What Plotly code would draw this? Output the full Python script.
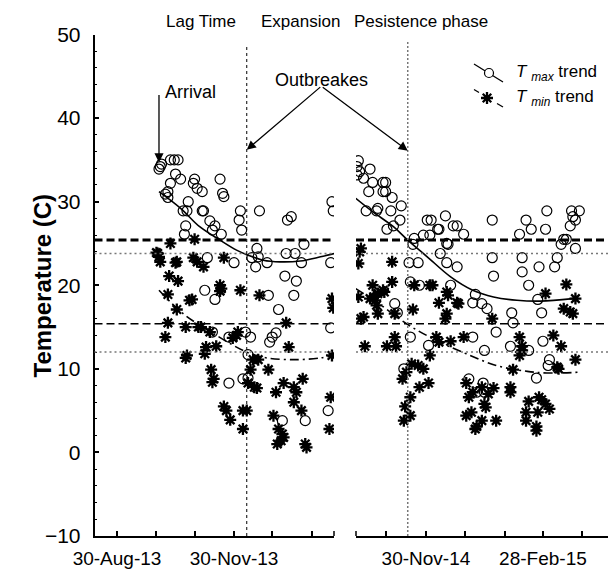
import pandas as pd
import plotly.graph_objects as go

# reference canvas is 616x570; the page body has an 8px margin, so the figure is 8px smaller
REF_W, REF_H = 616, 570
OFF = 8
W, H = REF_W - OFF, REF_H - OFF

# ---------------- data ----------------
# Season 1 (days counted from 30-Aug-2013)
base_2013 = "2013-08-30"
tmax_13_day = [33, 34, 35, 42, 45, 48, 46, 50, 61, 60, 63, 67, 81, 83, 84, 40, 38, 40, 42, 56,
               52, 55, 67, 68, 97, 96, 98, 112, 54, 53, 73, 77, 75, 82, 71, 92, 106, 110, 109, 111,
               118, 134, 137, 133, 140, 147, 145, 169, 170, 168, 132, 141, 139, 127, 69, 77, 119, 168, 75, 88,
               101, 105, 120, 122, 125, 103, 88, 99, 103, 130, 148, 166]
tmax_13_val = [33.9, 34.2, 34.5, 35.0, 35.0, 35.0, 33.3, 32.7, 32.7, 32.2, 31.6, 31.2, 32.7, 31.0, 30.6, 31.2, 30.9, 30.5, 32.2, 30.0,
               28.9, 28.9, 28.9, 28.9, 28.9, 27.8, 26.6, 28.9, 27.1, 26.1, 27.7, 27.1, 26.6, 26.1, 23.3, 22.7, 23.3, 24.4, 22.2, 23.4,
               22.7, 27.8, 28.2, 23.8, 23.8, 24.9, 22.7, 30.0, 28.9, 22.7, 21.1, 20.5, 18.8, 17.1, 19.4, 18.3, 18.8, 14.9, 14.4, 13.8,
               14.4, 13.8, 13.2, 13.8, 14.3, 11.7, 8.3, 8.8, 8.9, 3.8, 3.8, 5.0]
tmin_13_day = [42, 61, 32, 33, 34, 31, 46, 47, 60, 63, 68, 84, 41, 48, 40, 47, 57, 59, 81, 82,
               81, 97, 112, 169, 170, 40, 38, 54, 64, 66, 73, 70, 78, 69, 54, 55, 94, 95, 91, 107,
               111, 105, 119, 133, 135, 169, 74, 76, 75, 103, 108, 110, 125, 131, 139, 141, 146, 139, 145, 84,
               86, 89, 99, 102, 99, 123, 127, 130, 131, 126, 129, 148, 149, 168, 167]
tmin_13_val = [25.0, 25.5, 23.8, 23.4, 22.8, 23.9, 22.7, 22.8, 23.3, 22.8, 22.2, 23.3, 21.1, 20.5, 18.9, 17.1, 18.2, 18.3, 20.0, 19.6,
               19.3, 19.4, 18.8, 18.4, 17.3, 15.5, 13.8, 15.0, 15.0, 15.0, 14.4, 12.6, 12.7, 11.8, 11.3, 11.6, 14.0, 14.4, 13.7, 11.1,
               11.1, 9.9, 9.9, 15.5, 12.6, 11.6, 9.9, 8.8, 8.4, 8.3, 7.8, 7.7, 7.2, 8.3, 7.8, 7.2, 8.8, 6.0, 5.0, 5.5,
               5.0, 3.9, 5.0, 5.0, 2.8, 4.4, 2.8, 2.2, 1.8, 1.0, 1.4, 1.0, 0.6, 6.6, 2.8]
trend_max_13_day = [33, 50, 65, 81, 94, 103, 115, 128, 144, 160, 171]
trend_max_13_val = [31.2, 29.2, 27.0, 25.4, 24.2, 23.6, 23.0, 22.8, 22.9, 23.4, 23.8]
trend_min_13_day = [33, 52, 76, 102, 118, 141, 160, 170]
trend_min_13_val = [19.4, 16.6, 14.2, 12.0, 11.3, 11.1, 11.3, 11.6]

# Season 2 (days counted from 30-Nov-2014)
base_2014 = "2014-11-30"
tmax_14_day = [-52, -53, -51, -43, -53, -48, -41, -33, -31, -44, -33, -31, -26, -19, -46, -38, -27, -20, -37, -30,
               -25, -9, -10, 1, 4, 15, 21, 24, 29, -2, 3, 9, 10, 16, 17, 11, 16, 24, -13, -6,
               51, 51, 52, 77, 81, 93, 92, 72, 74, 74, 79, 87, 99, 101, 104, 106, 108, 111, 113, 115,
               112, 118, 115, 86, 89, 66, -12, -5, 19, -24, -22, 38, 36, 43, 47, 67, -12, 2, 36, 45,
               54, 65, 79, 90, 95, 94, 85, -17, 33, 44, 45, 39]
tmax_14_val = [34.9, 34.2, 33.6, 33.9, 33.2, 32.8, 32.3, 32.3, 32.3, 31.2, 31.2, 31.2, 30.5, 29.5, 28.9, 28.9, 28.9, 27.8, 29.2, 26.7,
               27.1, 25.6, 24.9, 27.8, 27.8, 28.3, 27.1, 27.1, 26.1, 26.0, 26.0, 26.7, 26.7, 25.0, 24.9, 23.8, 22.7, 22.2, 22.7, 22.7,
               27.8, 23.3, 21.1, 27.8, 26.7, 28.9, 26.7, 26.1, 23.3, 21.6, 20.0, 22.2, 22.2, 23.3, 24.9, 25.5, 25.5, 27.1, 28.2, 27.8,
               28.9, 28.9, 24.4, 18.3, 16.7, 16.7, 20.4, 20.0, 20.0, 17.8, 16.7, 18.9, 17.9, 17.8, 17.2, 15.5, 13.8, 12.8, 13.8, 12.2,
               14.4, 12.7, 12.2, 13.3, 11.1, 10.4, 8.9, 10.0, 8.8, 8.3, 7.2, 7.2]
tmin_14_day = [-50, -51, -52, -26, -41, -37, -33, -39, -43, -26, -32, -9, 3, 5, 16, 17, 10, 24, 25, 16,
               92, 108, 115, 106, 111, 113, -10, -52, -50, -40, -38, -37, -48, -24, 15, 51, -47, -30, -24, -23,
               8, 10, 3, 19, 29, 72, 74, 72, 74, 98, 104, 67, 101, 115, 102, -18, -15, -11, -6, -2,
               -5, 2, -12, -16, -12, -17, 31, 33, 36, 43, 48, 52, 45, 46, 31, 35, 39, 38, 43, 54,
               65, 65, 79, 87, 89, 92, 95, 86, 77, 77, 85, 85]
tmin_14_val = [24.4, 24.0, 22.6, 22.8, 20.0, 19.0, 19.4, 18.2, 18.4, 20.4, 19.2, 20.0, 20.0, 20.0, 19.2, 18.8, 17.9, 17.9, 17.8, 16.6,
               19.0, 20.1, 18.4, 17.2, 16.8, 16.6, 17.1, 18.6, 16.0, 18.6, 17.6, 16.6, 16.2, 16.6, 16.0, 16.0, 12.7, 12.7, 13.8, 12.7,
               13.8, 13.2, 11.6, 13.3, 13.8, 13.8, 12.7, 11.6, 12.2, 14.0, 12.7, 9.9, 10.2, 11.1, 10.0, 8.8, 9.6, 10.6, 10.4, 10.0,
               7.8, 8.3, 6.6, 5.5, 4.4, 3.8, 8.3, 6.6, 7.2, 7.8, 7.0, 7.7, 5.8, 5.4, 4.4, 4.8, 3.1, 2.8, 3.8, 3.8,
               7.8, 7.2, 6.1, 6.6, 6.3, 5.8, 5.2, 4.8, 4.8, 3.8, 3.1, 2.6]
trend_max_14_day = [-54, -41, -25, -14, 1, 19, 36, 52, 70, 88, 113]
trend_max_14_val = [30.4, 28.8, 27.0, 25.4, 23.4, 21.0, 19.4, 18.6, 18.2, 18.1, 18.4]
trend_min_14_day = [-54, -38, -15, 8, 31, 54, 78, 93, 119]
trend_min_14_val = [19.6, 18.0, 15.4, 13.4, 11.8, 10.4, 9.7, 9.5, 9.6]

# reference temperature levels (horizontal lines)
level_thick_dash = 25.4
level_dot_high = 23.8
level_dash = 15.4
level_dot_low = 12.0

outbreak_dates = ["2013-12-10", "2014-11-16"]
arrival_date = "2013-10-02"

# monthly ticks; only some carry a label
ticks_13 = ["2013-08-30", "2013-09-30", "2013-10-30", "2013-11-30", "2013-12-30", "2014-01-30"]
labeled_13 = ["2013-08-30", "2013-11-30"]
labels_13 = ["30-Aug-13", "30-Nov-13"]
ticks_14 = ["2014-10-30", "2014-11-30", "2014-12-30", "2015-01-30", "2015-02-28", "2015-03-30"]
labeled_14 = ["2014-11-30", "2015-02-28"]
labels_14 = ["30-Nov-14", "28-Feb-15"]

phase_labels = ["Lag Time", "Expansion", "Pesistence phase"]


def dates(base, days):
    b = pd.Timestamp(base)
    return [b + pd.Timedelta(days=d) for d in days]


FONT = "Liberation Sans, Arial, sans-serif"
circle_m = dict(symbol="circle-open", size=10, color="black", line=dict(width=1.2, color="black"))
star_m = dict(symbol="asterisk-open", size=10, color="black", line=dict(width=2.3, color="black"))

fig = go.Figure()

panels = [
    (base_2013, tmax_13_day, tmax_13_val, tmin_13_day, tmin_13_val,
     trend_max_13_day, trend_max_13_val, trend_min_13_day, trend_min_13_val, "x", "y"),
    (base_2014, tmax_14_day, tmax_14_val, tmin_14_day, tmin_14_val,
     trend_max_14_day, trend_max_14_val, trend_min_14_day, trend_min_14_val, "x2", "y2"),
]
for (base, mxd, mxv, mnd, mnv, tmxd, tmxv, tmnd, tmnv, xa, ya) in panels:
    fig.add_trace(go.Scatter(x=dates(base, mxd), y=mxv, mode="markers", marker=circle_m,
                             xaxis=xa, yaxis=ya, showlegend=False))
    fig.add_trace(go.Scatter(x=dates(base, mnd), y=mnv, mode="markers", marker=star_m,
                             xaxis=xa, yaxis=ya, showlegend=False))
    fig.add_trace(go.Scatter(x=dates(base, tmxd), y=tmxv, mode="lines",
                             line=dict(color="black", width=1.6, shape="spline"),
                             xaxis=xa, yaxis=ya, showlegend=False))
    fig.add_trace(go.Scatter(x=dates(base, tmnd), y=tmnv, mode="lines",
                             line=dict(color="black", width=1.6, shape="spline", dash="9px,4px,2px,4px"),
                             xaxis=xa, yaxis=ya, showlegend=False))

# legend glyphs drawn on an overlay axis measured in reference-canvas pixels
fig.add_trace(go.Scatter(x=[474, 503], y=[64, 82], mode="lines", line=dict(color="black", width=1.3),
                         xaxis="x3", yaxis="y3", showlegend=False))
fig.add_trace(go.Scatter(x=[489], y=[73], mode="markers",
                         marker=dict(symbol="circle", size=9, color="white", line=dict(width=1.2, color="black")),
                         xaxis="x3", yaxis="y3", showlegend=False))
fig.add_trace(go.Scatter(x=[474, 479, None, 497, 503], y=[89.5, 92.5, None, 103.5, 107], mode="lines",
                         line=dict(color="black", width=1.3), xaxis="x3", yaxis="y3", showlegend=False))
fig.add_trace(go.Scatter(x=[487], y=[98], mode="markers", marker=star_m,
                         xaxis="x3", yaxis="y3", showlegend=False))


def px(x, y):
    """reference-canvas pixel -> paper fraction"""
    return (x - OFF) / W, 1 - (y - OFF) / H


y_dom = [px(0, 536)[1], px(0, 34.5)[1]]
x1_dom = [px(94.5, 0)[0], px(334, 0)[0]]
x2_dom = [px(356, 0)[0], 1.0]


def drange(base, d0, d1):
    b = pd.Timestamp(base)
    return [b + pd.Timedelta(days=d0), b + pd.Timedelta(days=d1)]


range_13 = drange(base_2013, -17.7, 170.6)
range_14 = drange(base_2014, -53.8, 146.2)

xcommon = dict(type="date", showline=True, linecolor="black", linewidth=1.5, ticks="inside",
               ticklen=5, tickwidth=1.5, tickcolor="black", showgrid=False, zeroline=False,
               automargin=False,
               tickfont=dict(family=FONT, size=19, color="black"), ticklabelstandoff=4)
xover = dict(type="date", side="bottom", showline=False, ticks="inside", ticklen=5, tickwidth=1.5,
             tickcolor="black", showticklabels=False, showgrid=False, zeroline=False, automargin=False)
fig.update_layout(
    template="none",
    width=W, height=H, margin=dict(l=0, r=0, t=0, b=0, pad=0), autosize=False,
    paper_bgcolor="white", plot_bgcolor="rgba(0,0,0,0)", showlegend=False,
    xaxis=dict(domain=x1_dom, anchor="y", range=range_13,
               tickvals=labeled_13, ticktext=labels_13, **xcommon),
    xaxis2=dict(domain=x2_dom, anchor="y2", range=range_14,
                tickvals=labeled_14, ticktext=labels_14, **xcommon),
    xaxis4=dict(overlaying="x", anchor="y", range=range_13, tickvals=ticks_13, **xover),
    xaxis5=dict(overlaying="x2", anchor="y2", range=range_14, tickvals=ticks_14, **xover),
    yaxis=dict(domain=y_dom, anchor="x", range=[-10, 50], tick0=-10, dtick=10, showline=True,
               linecolor="black", linewidth=1.5, ticks="inside", ticklen=5, tickwidth=1.5,
               tickcolor="black", showgrid=False, zeroline=False, ticklabelstandoff=8, automargin=False,
               tickfont=dict(family=FONT, size=21, color="black"),
               minor=dict(dtick=2, ticks="inside", ticklen=3, tickwidth=1.2, tickcolor="black", showgrid=False)),
    yaxis2=dict(domain=y_dom, anchor="x2", range=[-10, 50], visible=False, automargin=False),
    xaxis3=dict(domain=[0, 1], anchor="y3", range=[OFF, REF_W], visible=False, automargin=False),
    yaxis3=dict(domain=[0, 1], anchor="x3", range=[REF_H, OFF], visible=False, automargin=False),
)
# invisible traces so the overlay tick axes are drawn
fig.add_trace(go.Scatter(x=[range_13[0]], y=[None], xaxis="x4", yaxis="y", showlegend=False, hoverinfo="skip"))
fig.add_trace(go.Scatter(x=[range_14[0]], y=[None], xaxis="x5", yaxis="y2", showlegend=False, hoverinfo="skip"))

# horizontal reference lines in each panel
for xa, ya in [("x", "y"), ("x2", "y2")]:
    fig.add_shape(type="line", xref=f"{xa} domain", x0=0, x1=1, yref=ya, y0=level_thick_dash, y1=level_thick_dash,
                  line=dict(color="black", width=3, dash="8px,4px"))
    fig.add_shape(type="line", xref=f"{xa} domain", x0=0, x1=1, yref=ya, y0=level_dash, y1=level_dash,
                  line=dict(color="black", width=1.5, dash="8px,4px"))
    for lv in (level_dot_high, level_dot_low):
        fig.add_shape(type="line", xref=f"{xa} domain", x0=0, x1=1, yref=ya, y0=lv, y1=lv,
                      line=dict(color="#777777", width=1.5, dash="2px,3px"))

# outbreak verticals
fig.add_shape(type="line", xref="x", x0=outbreak_dates[0], x1=outbreak_dates[0], yref="y", y0=-10, y1=48.8,
              line=dict(color="black", width=1, dash="3px,3px"))
fig.add_shape(type="line", xref="x2", x0=outbreak_dates[1], x1=outbreak_dates[1], yref="y2", y0=-10, y1=49.2,
              line=dict(color="#777777", width=1.5, dash="2px,2px"))

# axis break caps
fig.add_shape(type="line", xref="x domain", x0=1, x1=1, yref="y", y0=-10.6, y1=-9.4,
              line=dict(color="black", width=1.5))
fig.add_shape(type="line", xref="x2 domain", x0=0, x1=0, yref="y2", y0=-10.6, y1=-9.4,
              line=dict(color="black", width=1.5))

for label, cx in zip(phase_labels, [200.5, 300.5, 421]):
    xx, yy = px(cx, 21.5)
    fig.add_annotation(x=xx, y=yy, xref="paper", yref="paper", text=label, showarrow=False,
                       font=dict(family=FONT, size=17, color="black"), xanchor="center", yanchor="middle")

xx, yy = px(26, 286)
fig.add_annotation(x=xx, y=yy, xref="paper", yref="paper", text="<b>Temperature (C)</b>", textangle=-90,
                   showarrow=False, font=dict(family=FONT, size=24, color="black"))

xx, yy = px(163, 80)
fig.add_annotation(x=xx, y=yy, xref="paper", yref="paper", text="Arrival", showarrow=False,
                   font=dict(family=FONT, size=18, color="black"))
fig.add_annotation(x=arrival_date, y=34.7, xref="x", yref="y", text="", showarrow=True,
                   ax=0, ay=-69, arrowhead=2, arrowsize=1.4, arrowwidth=1.3, arrowcolor="black")

xx, yy = px(321, 68)
fig.add_annotation(x=xx, y=yy, xref="paper", yref="paper", text="Outbreakes", showarrow=False,
                   font=dict(family=FONT, size=18, color="black"))
fig.add_annotation(x=outbreak_dates[0], y=36.2, xref="x", yref="y", text="", showarrow=True,
                   ax=75, ay=-64, arrowhead=2, arrowsize=1.4, arrowwidth=1.3, arrowcolor="black")
fig.add_annotation(x=outbreak_dates[1], y=36.1, xref="x2", yref="y2", text="", showarrow=True,
                   ax=-86.5, ay=-64.5, arrowhead=2, arrowsize=1.4, arrowwidth=1.3, arrowcolor="black")

for ty, sub in [(73, "max"), (98, "min")]:
    xx, yy = px(514, ty)
    fig.add_annotation(x=xx, y=yy, xref="paper", yref="paper",
                       text=f"<i>T</i> <sub><i>{sub}</i></sub> trend", showarrow=False,
                       xanchor="left", yanchor="middle", font=dict(family=FONT, size=17, color="black"))

fig.write_html("out.html")
